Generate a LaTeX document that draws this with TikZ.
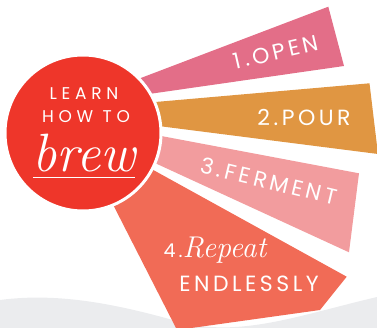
\documentclass[tikz,border=0pt]{standalone}
\usepackage{fontspec}
\newfontfamily\stepfont[LetterSpace=16]{Poppins}
\newfontfamily\badgefont[LetterSpace=28]{Poppins}
\usetikzlibrary{calc}

\definecolor{brewred}{HTML}{EE362A}
\definecolor{openpink}{HTML}{E36E88}
\definecolor{pourorange}{HTML}{E09642}
\definecolor{fermentpink}{HTML}{F29C9E}
\definecolor{repeatcoral}{HTML}{F16B56}
\definecolor{wavegrey}{HTML}{EBECEE}

\begin{document}
\begin{tikzpicture}[x=1pt,y=-1pt,
		steptext/.style={text=white,inner sep=0pt,font=\stepfont\fontsize{22}{22}\selectfont},
		badgetext/.style={text=white,inner sep=0pt,font=\badgefont\fontsize{17}{17}\selectfont},
		script/.style={text=white,inner sep=0pt,font=\rmfamily\itshape\fontsize{54}{54}\selectfont},
		badge/.style={circle,fill=brewred,draw=white,line width=3pt,minimum size=156pt,inner sep=0pt}
	]
		\useasboundingbox (0,0) rectangle (377,328);
		% grey wave at the bottom
		\fill[wavegrey] (0,300) .. controls (60,292) and (120,305) .. (180,322)
			.. controls (240,338) and (300,315) .. (377,297) -- (377,328) -- (0,328) -- cycle;
	
		% the four rays, drawn under the badge
		\fill[openpink] (124,84.4) -- (328.3,6.7) -- (344,66) -- (135,96) -- cycle;
		\fill[pourorange] (138.2,103.5) -- (369.5,83.3) -- (378,154) -- (142.7,124) -- cycle;
		\fill[fermentpink] (145.3,133) -- (359,173.3) -- (349,252.3) -- (140.3,156.3) -- cycle;
		\fill[repeatcoral] (140.6,163) -- (346.7,276.7) -- (320,310)
			.. controls (270,317) and (220,324) .. (177,330) -- (108.8,196.3) -- cycle;
	
		% badge
		\node[badge] (badge) at (83,133) {};
		\node[badgetext] (learn) at (84,93.5) {LEARN};
		\node[badgetext] (howto) at (86,116.7) {HOW TO};
		\node[script] (brew) at (84,153) {brew};
		\draw[white,line width=0.8pt] ($(badge.center)+(-50,44)$) -- ($(badge.center)+(52,44)$);
	
		% step labels
		\node[steptext,rotate=13] (open) at (276,52) {1.OPEN};
		\node[steptext] (pour) at (304,117) {2.POUR};
		\node[steptext,rotate=-13.5] (ferment) at (269,181) {3.FERMENT};
		\node[steptext] (repeat) at (215,250) {{\fontsize{19}{19}\selectfont 4.}{\rmfamily\itshape\fontsize{30}{30}\selectfont Repeat}};
		\node[steptext] (endless) at (249,284) {ENDLESSLY};
	\end{tikzpicture}
\end{document}
